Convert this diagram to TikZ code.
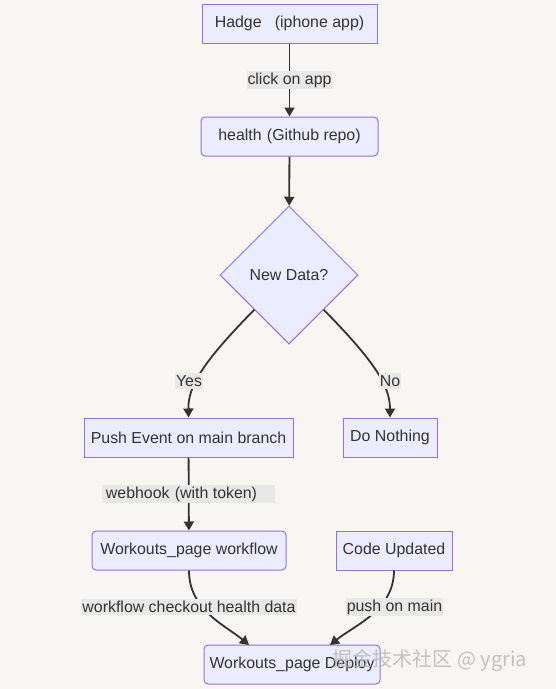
\documentclass[tikz,border=0pt]{standalone}
\usepackage{fontspec}
\setmainfont{Liberation Sans}
\newfontfamily\cjkfont{Noto Sans CJK SC}
\usetikzlibrary{shapes.geometric,arrows.meta}
\definecolor{bgc}{HTML}{F8F6F3}
\definecolor{nodefill}{HTML}{ECECFF}
\definecolor{nodeline}{HTML}{9370DB}
\definecolor{txt}{HTML}{333333}
\definecolor{lblbg}{HTML}{E8E8E8}
\begin{document}
\begin{tikzpicture}[x=1pt,y=-1pt,
  box/.style={draw=nodeline,fill=nodefill,line width=1pt,minimum height=39pt,text=txt,inner sep=0pt,font=\fontsize{15.9}{18}\selectfont},
  rbox/.style={box,rounded corners=4pt},
  dia/.style={diamond,draw=nodeline,fill=nodefill,line width=1pt,minimum width=138pt,minimum height=138pt,aspect=1,text=txt,inner sep=0pt,font=\fontsize{15.9}{18}\selectfont},
  lbl/.style={fill=lblbg,text=txt,inner xsep=1pt,inner ysep=2pt,font=\fontsize{15.9}{18}\selectfont},
  arr/.style={draw=txt,line width=1.8pt,-{Triangle[length=9pt,width=10pt]}}]
\path[fill=bgc] (0,0) rectangle (556,689);
\node[box,minimum width=175pt] (hadge) at (289.5,23.5) {Hadge \ \ (iphone app)};
\node[rbox,minimum width=177pt] (health) at (289.5,136.5) {health\,\,(Github repo)};
\node[dia] (newdata) at (289,275) {New Data?};
\node[box,minimum width=209pt] (push) at (188.5,437.5) {Push Event on main branch};
\node[box,minimum width=94pt] (nothing) at (390,437.5) {Do Nothing};
\node[rbox,minimum width=194pt] (workflow) at (189,550.5) {Workouts\_page workflow};
\node[box,minimum width=116pt] (code) at (394,550.5) {Code Updated};
\node[rbox,minimum width=176pt] (deploy) at (292,664.5) {Workouts\_page Deploy};
\coordinate (d1) at (249,645);
\coordinate (d2) at (330,645);

\draw[arr] (hadge) -- (health);
\draw[arr] (health) -- (newdata);
\draw[arr] (newdata.south west) .. controls (205,360) and (188,385) .. (push.north);
\draw[arr] (newdata.south east) .. controls (373,360) and (390,385) .. (nothing.north);
\draw[arr] (push) -- (workflow);
\draw[arr] (workflow.south) .. controls (189,610) and (225,625) .. (d1);
\draw[arr] (code.south) .. controls (394,610) and (355,625) .. (d2);

\node[lbl] (l1) at (289.5,80) {click on app};
\node[lbl] (l2) at (189,381) {Yes};
\node[lbl] (l3) at (390,381) {No};
\node[lbl,minimum width=173pt,align=left] (l4) at (188.5,494) {webhook\,\,(with token)\hspace{14pt}};
\node[lbl] (l5) at (189,607) {workflow checkout health data};
\node[lbl] (l6) at (394.5,607) {push on main};
\node[text=gray!55,font=\cjkfont\fontsize{20}{24}\selectfont,opacity=0.85] (wm) at (430,661) {掘金技术社区 @ ygria};
\end{tikzpicture}
\end{document}
